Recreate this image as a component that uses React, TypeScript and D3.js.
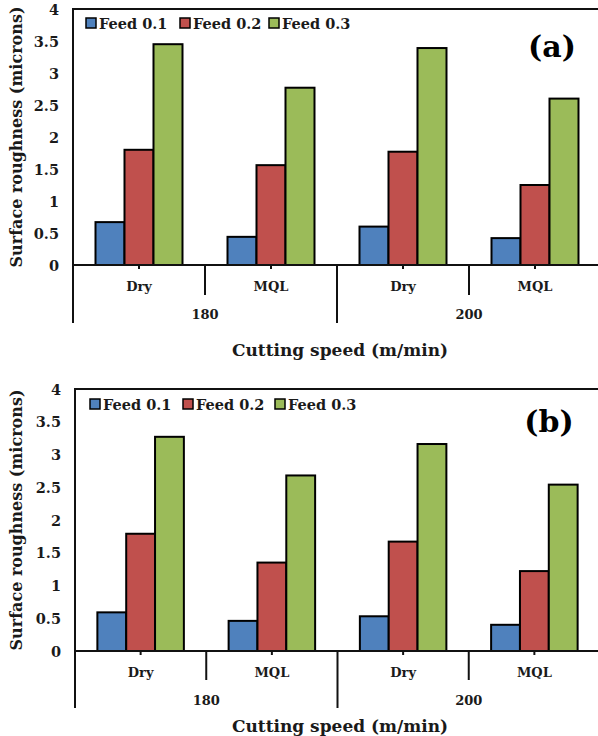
import React from "react";
import * as d3 from "d3";

const series = ["Feed 0.1", "Feed 0.2", "Feed 0.3"];
const colors = ["#4F81BD", "#C0504D", "#9BBB59"];
const speeds = ["180", "200"];
const methods = ["Dry", "MQL"];
const yTicks = [0, 0.5, 1, 1.5, 2, 2.5, 3, 3.5, 4];

// values per category (180-Dry, 180-MQL, 200-Dry, 200-MQL) for each feed
const valuesA = [
  [0.67, 0.44, 0.6, 0.42],
  [1.8, 1.56, 1.77, 1.25],
  [3.45, 2.77, 3.39, 2.6],
];
const valuesB = [
  [0.59, 0.46, 0.53, 0.4],
  [1.79, 1.35, 1.67, 1.22],
  [3.27, 2.68, 3.16, 2.54],
];

const FONT = "'DejaVu Serif', serif";
const TXT = "#1a1a1a";

type PanelProps = {
  values: number[][];
  label: string;
  x0: number;
  x1: number;
  yBottom: number;
  yTop: number;
  legendY: number;
  legendX: number[];
  labelPos: [number, number];
  shortLen: number;
  longLen: number;
  titleY: number;
};

function Panel(p: PanelProps) {
  const cats: string[] = [];
  speeds.forEach((s) => methods.forEach((m) => cats.push(s + "|" + m)));
  const x = d3.scaleBand<string>().domain(cats).range([p.x0, p.x1]).paddingInner(0).paddingOuter(0);
  const xs = d3.scaleBand<string>().domain(series).range([0, x.bandwidth()]).paddingInner(0).paddingOuter(0.776);
  const y = d3.scaleLinear().domain([0, 4]).range([p.yBottom, p.yTop]);
  const bw = x.bandwidth();
  const outerW = bw * methods.length;
  const yMid = (p.yTop + p.yBottom) / 2;
  return (
    <g>
      {/* plot area border */}
      <rect x={p.x0} y={y(4)} width={p.x1 - p.x0} height={y(0) - y(4)} fill="white" stroke="#111" strokeWidth={2} />
      {/* bars */}
      {series.map((s, si) =>
        cats.map((c, ci) => (
          <rect
            key={s + c}
            x={(x(c) as number) + (xs(s) as number)}
            y={y(p.values[si][ci])}
            width={xs.bandwidth()}
            height={y(0) - y(p.values[si][ci])}
            fill={colors[si]}
            stroke="#000"
            strokeWidth={2}
          />
        ))
      )}
      {/* y ticks */}
      {yTicks.map((t) => (
        <text key={t} x={p.x0 - 14} y={y(t)} textAnchor="end" dominantBaseline="central" fontFamily={FONT} fontWeight="bold" fontSize={14.5} fill={TXT}>
          {t}
        </text>
      ))}
      {/* x axis lines */}
      <line x1={p.x0} x2={p.x1} y1={y(0)} y2={y(0)} stroke="#111" strokeWidth={2} />
      <line x1={p.x0} x2={p.x0} y1={y(0)} y2={y(0) + p.longLen} stroke="#111" strokeWidth={2} />
      {cats.map((c, ci) => {
        const cx = (x(c) as number) + bw / 2;
        return (
          <g key={c}>
            <line x1={cx} x2={cx} y1={y(0)} y2={y(0) + 4} stroke="#111" strokeWidth={2} />
            <text x={cx} y={y(0) + 21} textAnchor="middle" dominantBaseline="central" fontFamily={FONT} fontWeight="bold" fontSize={13} fill={TXT}>
              {c.split("|")[1]}
            </text>
            {ci % 2 === 0 && (
              <line x1={cx + bw / 2} x2={cx + bw / 2} y1={y(0)} y2={y(0) + p.shortLen} stroke="#111" strokeWidth={2} />
            )}
          </g>
        );
      })}
      {speeds.map((s, si) => {
        const sx = p.x0 + si * outerW;
        return (
          <g key={s}>
            <text x={sx + outerW / 2} y={y(0) + 49} textAnchor="middle" dominantBaseline="central" fontFamily={FONT} fontWeight="bold" fontSize={13} fill={TXT}>
              {s}
            </text>
            <line x1={sx + outerW} x2={sx + outerW} y1={y(0)} y2={y(0) + p.longLen} stroke="#111" strokeWidth={2} />
          </g>
        );
      })}
      {/* axis titles */}
      <text x={340} y={p.titleY} textAnchor="middle" dominantBaseline="central" fontFamily={FONT} fontWeight="bold" fontSize={17} fill={TXT}>
        Cutting speed (m/min)
      </text>
      <text
        transform={`translate(16,${yMid}) rotate(-90)`}
        textAnchor="middle"
        dominantBaseline="central"
        fontFamily={FONT}
        fontWeight="bold"
        fontSize={16}
        fill={TXT}
      >
        Surface roughness (microns)
      </text>
      {/* legend */}
      {series.map((s, si) => (
        <g key={s}>
          <rect x={p.legendX[si]} y={p.legendY - 5} width={10} height={10} fill={colors[si]} stroke="#000" strokeWidth={1.5} />
          <text x={p.legendX[si] + 13} y={p.legendY} dominantBaseline="central" fontFamily={FONT} fontWeight="bold" fontSize={14.5} fill={TXT}>
            {s}
          </text>
        </g>
      ))}
      <text x={p.labelPos[0]} y={p.labelPos[1]} textAnchor="middle" dominantBaseline="central" fontFamily={FONT} fontWeight="bold" fontSize={30} fill="#000">
        {p.label}
      </text>
    </g>
  );
}

export default function App() {
  return (
    <svg width={598} height={736} style={{ position: "absolute", left: 0, top: 0, background: "white" }}>
      <rect width={598} height={736} fill="white" />
      <Panel
        values={valuesA}
        label="(a)"
        x0={73}
        x1={601}
        yBottom={265}
        yTop={9}
        legendY={23}
        legendX={[86, 180, 269]}
        labelPos={[552, 46]}
        shortLen={30}
        longLen={58}
        titleY={350}
      />
      <Panel
        values={valuesB}
        label="(b)"
        x0={75}
        x1={600}
        yBottom={651}
        yTop={389}
        legendY={404}
        legendX={[90, 183, 275]}
        labelPos={[549, 421]}
        shortLen={29}
        longLen={57}
        titleY={726}
      />
    </svg>
  );
}
